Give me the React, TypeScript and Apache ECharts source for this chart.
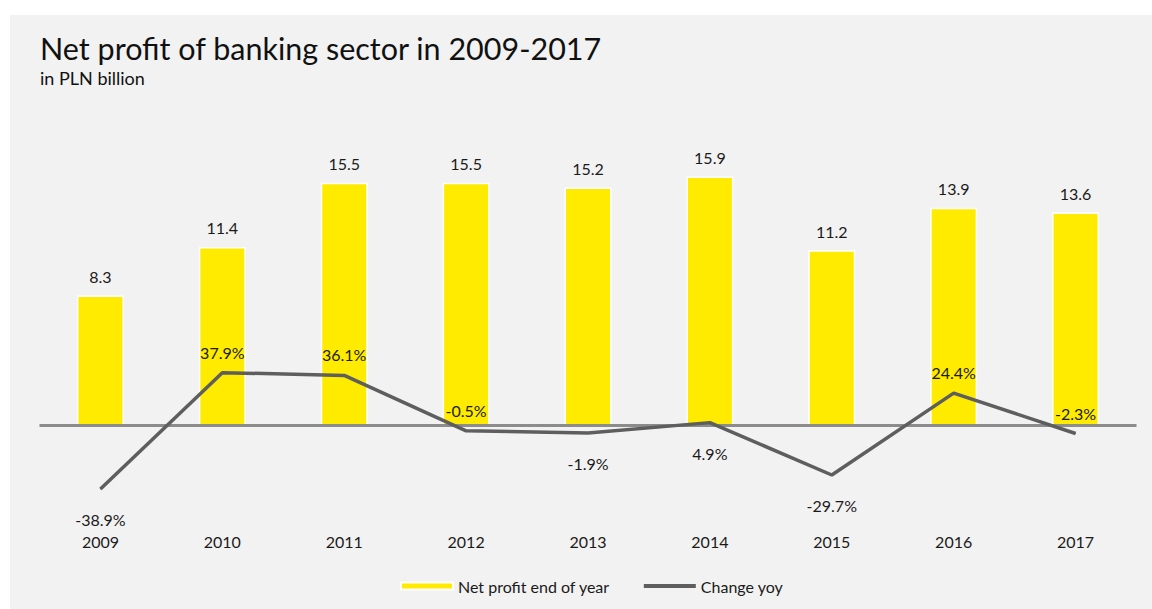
import React, { useEffect, useRef } from "react";
import * as echarts from "echarts";

const years = ["2009", "2010", "2011", "2012", "2013", "2014", "2015", "2016", "2017"];
const netProfit = [8.3, 11.4, 15.5, 15.5, 15.2, 15.9, 11.2, 13.9, 13.6];
const changeYoy = [-38.9, 37.9, 36.1, -0.5, -1.9, 4.9, -29.7, 24.4, -2.3];
const yoyLabelBelow = ["2009", "2013", "2014", "2015"];

const titleText = "Net profit of banking sector in 2009-2017";
const subtitleText = "in PLN billion";
const barName = "Net profit end of year";
const lineName = "Change yoy";

export default function App() {
  const ref = useRef<HTMLDivElement>(null);
  useEffect(() => {
    const chart = echarts.init(ref.current!, null, { renderer: "svg" });
    const font = "Lato, 'Open Sans', sans-serif";
    const txt = "#1a1a1a";
    chart.setOption({
      animation: false,
      backgroundColor: "#ffffff",
      textStyle: { fontFamily: font },
      graphic: [
        {
          type: "rect",
          z: -1,
          silent: true,
          shape: { x: 10, y: 15, width: 1142, height: 594 },
          style: { fill: "#f2f2f2" },
        },
        {
          type: "text",
          x: 40,
          y: 48,
          style: {
            text: titleText,
            fontSize: 30.5,
            fontFamily: font,
            fill: "#111111",
            verticalAlign: "middle",
          },
        },
        {
          type: "text",
          x: 40,
          y: 78,
          style: {
            text: subtitleText,
            fontSize: 18,
            fontFamily: font,
            fill: "#111111",
            verticalAlign: "middle",
          },
        },
      ],
      legend: {
        left: 395,
        top: 573,
        itemWidth: 52,
        itemHeight: 7,
        itemGap: 32,
        textStyle: { fontSize: 16, color: txt, fontFamily: font },
        data: [
          { name: barName, icon: "rect" },
          { name: lineName, itemStyle: { opacity: 0 }, lineStyle: { width: 4, color: "#5e5e5e" } },
        ],
      },
      grid: { left: 39.5, right: 15.5, top: 113, bottom: 81 },
      xAxis: {
        type: "category",
        data: years,
        axisLine: { show: false },
        axisTick: { show: false },
        axisLabel: { fontSize: 16, color: txt, margin: 5, fontFamily: font },
      },
      yAxis: [
        { type: "value", show: false, min: -6.53, max: 19.95, splitLine: { show: false } },
        { type: "value", show: false, min: -64.7, max: 209.4, splitLine: { show: false } },
      ],
      series: [
        {
          name: barName,
          type: "bar",
          yAxisIndex: 0,
          barWidth: 47,
          z: 2,
          data: netProfit,
          itemStyle: { color: "#ffeb00", borderColor: "#ffffff", borderWidth: 1.5 },
          label: {
            show: true,
            position: "top",
            distance: 11,
            fontSize: 16,
            color: txt,
            fontFamily: font,
            formatter: (p: any) => Number(p.value).toFixed(1),
          },
          markLine: {
            silent: true,
            symbol: "none",
            label: { show: false },
            lineStyle: { color: "#8c8c8c", width: 3, type: "solid" },
            emphasis: { disabled: true },
            data: [{ yAxis: 0 }],
          },
        },
        {
          name: lineName,
          type: "line",
          yAxisIndex: 1,
          z: 5,
          symbol: "circle",
          symbolSize: 1,
          itemStyle: { color: "#5e5e5e" },
          lineStyle: { color: "#5e5e5e", width: 3.5 },
          data: changeYoy.map((v, i) => {
            const below = yoyLabelBelow.includes(years[i]);
            return {
              value: v,
              label: { position: below ? "bottom" : "top", distance: below ? 22 : 12 },
            };
          }),
          label: {
            show: true,
            fontSize: 16,
            color: txt,
            fontFamily: font,
            formatter: (p: any) => Number(p.value).toFixed(1) + "%",
          },
        },
      ],
    });
    return () => chart.dispose();
  }, []);
  return (
    <div style={{ position: "absolute", left: 0, top: 0, width: 1152, height: 609 }}>
      <div ref={ref} style={{ width: 1152, height: 609 }} />
    </div>
  );
}
